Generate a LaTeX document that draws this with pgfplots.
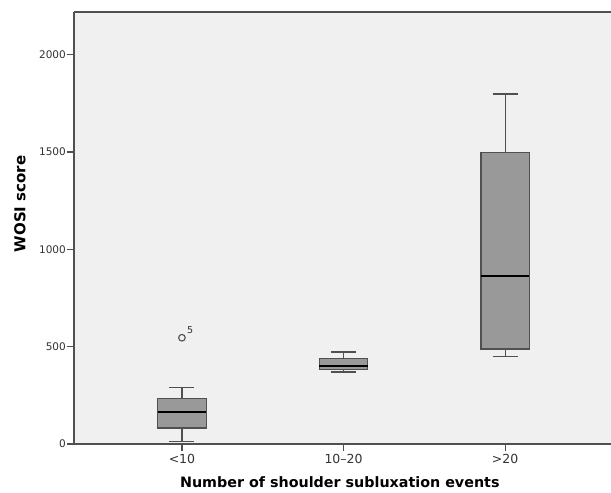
\documentclass[border=0pt]{standalone}
\usepackage{fontspec}
\setmainfont{DejaVu Sans}
\usepackage{pgfplots}
\pgfplotsset{compat=1.18}
\usepgfplotslibrary{statistics}
\definecolor{bgc}{HTML}{F0F0F0}
\definecolor{boxc}{HTML}{999999}
\definecolor{linec}{HTML}{505050}
\definecolor{tickc}{HTML}{333333}
\begin{document}
\begin{tikzpicture}
\begin{axis}[name=a,
  boxplot/draw direction=y,
  boxplot/every whisker/.style={draw=linec, line width=1.3pt},
  boxplot/every box/.style={draw=linec, fill=boxc, line width=1.2pt},
  scale only axis, width=537pt, height=432pt,
  xmin=-0.668, xmax=2.655, ymin=0, ymax=2220,
  axis background/.style={fill=bgc},
  axis x line*=bottom, axis y line*=left,
  axis line style={linec, line width=1.3pt, -},
  xtick={0,1,2}, xticklabels={<10, 10--20, >20},
  ytick={0,500,1000,1500,2000},
  tick align=outside, major tick length=7pt,
  tick style={linec, line width=1.3pt},
  /pgf/number format/assume math mode=true,
  /pgf/number format/1000 sep={},
  yticklabel style={font=\fontsize{10.5}{12}\selectfont, text=tickc, inner xsep=1pt},
  xticklabel style={font=\fontsize{12.5}{14}\selectfont, text=tickc},
  xlabel={Number of shoulder subluxation events},
  xlabel style={font=\bfseries\fontsize{14.3}{16}\selectfont, at={(axis description cs:0.495,0)}, anchor=center, yshift=-38pt},
  ylabel={WOSI score},
  ylabel style={font=\bfseries\fontsize{15}{17}\selectfont, at={(axis description cs:0,0.556)}, anchor=center, yshift=54pt},
]
\addplot[boxplot prepared={draw position=0, lower whisker=12, lower quartile=82, median=166, upper quartile=235, upper whisker=289, box extend=0.3, whisker extend=0.155, every median/.style={black, line width=2.2pt}}, draw=linec, fill=boxc, line width=1.2pt, mark=o, mark size=3.3pt, mark options={fill=none, draw=linec, line width=1.1pt}] table[row sep=\\, y index=0] {y\\ 546\\};
\addplot[boxplot prepared={draw position=1, lower whisker=370, lower quartile=384, median=402, upper quartile=438, upper whisker=473, box extend=0.3, whisker extend=0.155, every median/.style={black, line width=2.2pt}}, draw=linec, fill=boxc, line width=1.2pt] coordinates {};
\addplot[boxplot prepared={draw position=2, lower whisker=451, lower quartile=488, median=862, upper quartile=1499, upper whisker=1799, box extend=0.3, whisker extend=0.155, every median/.style={black, line width=2pt}}, draw=linec, fill=boxc, line width=1.2pt] coordinates {};
\node[anchor=south west, font=\fontsize{9.5}{10}\selectfont, text=tickc, inner sep=1pt] at (axis cs:0.025,560) {5};
\end{axis}
\draw[linec, line width=1.3pt] (a.north west) -- (a.north east);
\pgfresetboundingbox
\path[use as bounding box] ([xshift=-74pt, yshift=-49pt]a.south west) rectangle ([yshift=12pt]a.north east);
\end{tikzpicture}
\end{document}
